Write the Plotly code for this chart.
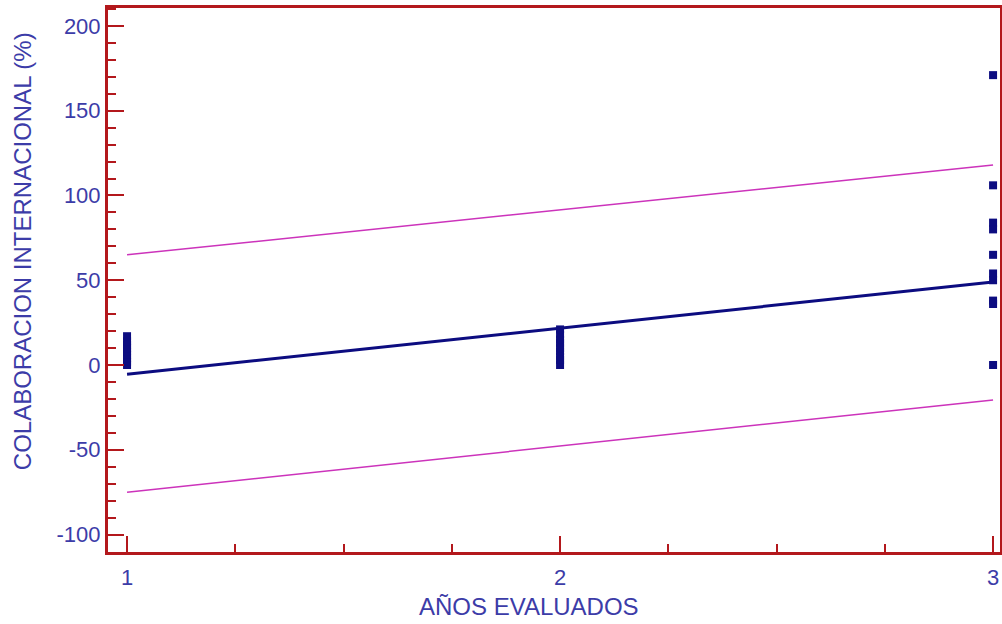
import plotly.graph_objects as go

# Observed data (year evaluated vs international collaboration %)
x_year1 = [1, 1, 1, 1, 1, 1, 1, 1, 1]
y_year1 = [0, 2, 4, 6, 8, 10, 12, 14, 17]
x_year2 = [2, 2, 2, 2, 2, 2, 2, 2, 2]
y_year2 = [0, 3, 5, 8, 10, 13, 15, 18, 21]
x_year3 = [3, 3, 3, 3, 3, 3, 3, 3, 3, 3]
y_year3 = [171, 106, 84, 80, 65, 54, 50, 38, 36, 0]

# Fitted regression line and prediction limits
fit_x = [1, 2, 3]
fit_y = [-5.5, 21.7, 49]
upper_y = [65, 91.5, 118]
lower_y = [-75, -47.8, -20.6]

# Tick labels
x_ticks = [1, 2, 3]
x_ticklabels = ["1", "2", "3"]
y_ticks = [-100, -50, 0, 50, 100, 150, 200]
y_ticklabels = ["-100", "-50", "0", "50", "100", "150", "200"]

x_title = "AÑOS EVALUADOS"
y_title = "COLABORACION INTERNACIONAL (%)"

xs = x_year1 + x_year2 + x_year3
ys = y_year1 + y_year2 + y_year3

BLUE_TXT = "#3c3ca8"
RED = "#b3181c"
NAVY = "#0c0c80"
PINK = "#cc33bb"

fig = go.Figure()
fig.add_trace(go.Scatter(x=fit_x, y=upper_y, mode="lines",
                         line=dict(color=PINK, width=1.5), showlegend=False))
fig.add_trace(go.Scatter(x=fit_x, y=lower_y, mode="lines",
                         line=dict(color=PINK, width=1.5), showlegend=False))
fig.add_trace(go.Scatter(x=fit_x, y=fit_y, mode="lines",
                         line=dict(color=NAVY, width=3), showlegend=False))
fig.add_trace(go.Scatter(x=xs, y=ys, mode="markers", cliponaxis=False,
                         marker=dict(symbol="square", size=8, color=NAVY,
                                     line=dict(width=0)),
                         showlegend=False))

font = dict(family="Liberation Sans, Arial, sans-serif", color=BLUE_TXT)

fig.update_layout(
    width=1002, height=624,
    margin=dict(l=108, r=2, t=8, b=72, autoexpand=False),
    paper_bgcolor="white", plot_bgcolor="white",
    font=dict(size=22, **font),
    xaxis=dict(
        range=[0.956, 3.016],
        tickvals=x_ticks, ticktext=x_ticklabels,
        ticks="inside", ticklen=16, tickwidth=2, tickcolor=RED,
        minor=dict(dtick=0.25, tick0=1, ticks="inside", ticklen=8,
                   tickwidth=2, tickcolor=RED, showgrid=False),
        showgrid=False, zeroline=False,
        showline=True, linecolor=RED, linewidth=3, mirror=True,
        tickfont=dict(size=22, **font),
        ticklabelstandoff=4,
    ),
    yaxis=dict(
        range=[-110.3, 210.6],
        tickvals=y_ticks, ticktext=y_ticklabels,
        ticks="inside", ticklen=16, tickwidth=2, tickcolor=RED,
        minor=dict(dtick=10, tick0=0, ticks="inside", ticklen=8,
                   tickwidth=2, tickcolor=RED, showgrid=False),
        showgrid=False, zeroline=False,
        showline=True, linecolor=RED, linewidth=3, mirror=True,
        tickfont=dict(size=22, **font),
    ),
    annotations=[
        dict(text=x_title, xref="paper", yref="paper", x=0.472, y=-0.101,
             xanchor="center", yanchor="middle", showarrow=False,
             font=dict(size=24, **font)),
        dict(text=y_title, xref="paper", yref="paper", x=-0.0964, y=0.553,
             xanchor="center", yanchor="middle", showarrow=False, textangle=-90,
             font=dict(size=24, **font)),
    ],
)

fig.write_html("out.html", config={"displayModeBar": False})

with open("out.html", "r", encoding="utf-8") as f:
    html = f.read()
html = html.replace("<head>", "<head><style>html,body{margin:0;padding:0;overflow:hidden;}</style>", 1)
with open("out.html", "w", encoding="utf-8") as f:
    f.write(html)
